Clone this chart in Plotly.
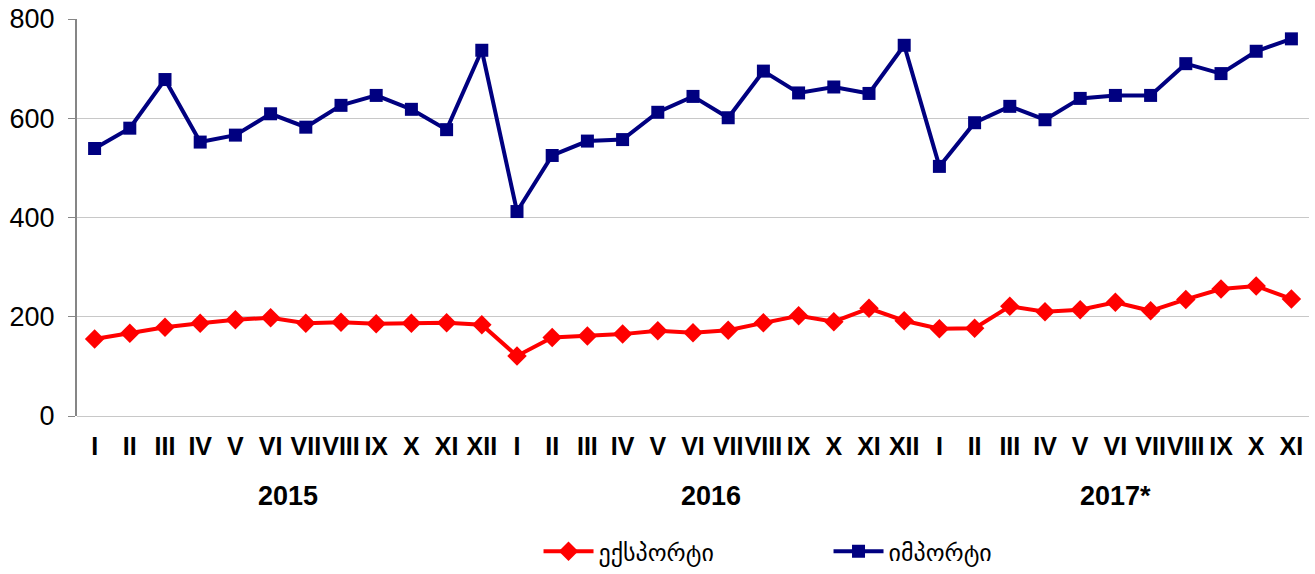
import plotly.graph_objects as go

months = ["I", "II", "III", "IV", "V", "VI", "VII", "VIII", "IX", "X", "XI", "XII",
          "I", "II", "III", "IV", "V", "VI", "VII", "VIII", "IX", "X", "XI", "XII",
          "I", "II", "III", "IV", "V", "VI", "VII", "VIII", "IX", "X", "XI"]
years = ["2015", "2016", "2017*"]
year_counts = [12, 12, 11]

exports = [155, 167, 179, 187, 194, 198, 187, 189, 186, 187, 188, 184,
           121, 158, 161, 165, 172, 168, 173, 188, 202, 190, 217, 192,
           176, 177, 221, 210, 214, 229, 212, 235, 256, 262, 236]
imports = [539, 580, 678, 552, 566, 609, 582, 626, 646, 618, 577, 737,
           412, 525, 554, 557, 612, 644, 601, 695, 651, 663, 650, 747,
           503, 591, 624, 597, 640, 646, 646, 710, 690, 735, 760]

names = ["ექსპორტი", "იმპორტი"]

x = list(range(len(months)))

fig = go.Figure()
fig.add_trace(go.Scatter(
    x=x, y=exports, name=names[0], mode="lines+markers",
    line=dict(color="#FF0000", width=4),
    marker=dict(symbol="diamond", size=15, color="#FF0000"),
))
fig.add_trace(go.Scatter(
    x=x, y=imports, name=names[1], mode="lines+markers",
    line=dict(color="#000080", width=4),
    marker=dict(symbol="square", size=13, color="#000080"),
))

# year group labels
start = 0
for yr, n in zip(years, year_counts):
    center = start + (n - 1) / 2
    fig.add_annotation(
        x=center, y=0, xref="x", yref="paper", yanchor="top",
        yshift=-63, text="<b>%s</b>" % yr, showarrow=False,
        font=dict(family="Liberation Sans, Arial", size=27, color="#000000"),
    )
    start += n

fig.update_layout(
    width=1315, height=574,
    margin=dict(l=77, r=6, t=19, b=158, autoexpand=False),
    paper_bgcolor="white", plot_bgcolor="white",
    showlegend=True,
    legend=dict(
        orientation="h", x=0.61, xanchor="center", y=-0.285, yanchor="top",
        font=dict(family="DejaVu Sans, Liberation Sans", size=24, color="#000000"),
        itemwidth=50, entrywidth=225,
    ),
    xaxis=dict(
        range=[-0.5, len(months) - 0.5], automargin=False,
        tickmode="array", tickvals=x, ticktext=["<b>%s</b>" % m for m in months],
        tickfont=dict(family="Liberation Sans, Arial", size=25, color="#000000"),
        showgrid=False, zeroline=False, showline=False, ticks="",
        tickangle=0, ticklabelstandoff=13,
    ),
    yaxis=dict(
        range=[0, 800], tickvals=[0, 200, 400, 600, 800], automargin=False,
        tickfont=dict(family="Liberation Sans, Arial", size=27, color="#000000"),
        showgrid=True, gridcolor="#C8C8C8", gridwidth=1,
        zeroline=True, zerolinecolor="#C8C8C8", zerolinewidth=1,
        showline=True, linecolor="#868686", linewidth=2,
        ticks="outside", ticklen=7, tickcolor="#868686",
        ticklabelstandoff=8, ticklabeloverflow="allow",
    ),
)

fig.write_html("out.html", config={"displayModeBar": False},
               post_script="document.body.style.margin='0';")
